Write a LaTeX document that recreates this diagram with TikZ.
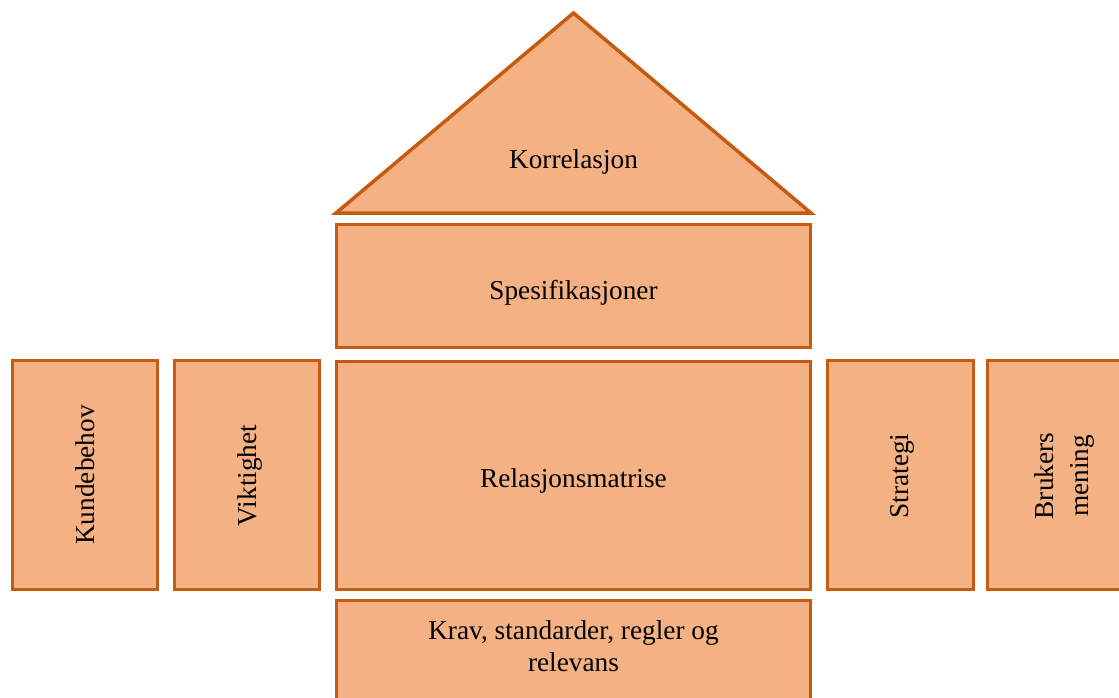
\documentclass[tikz,border=0pt]{standalone}
\usepackage{fontspec}
\setmainfont{Liberation Serif}
\definecolor{hqfill}{HTML}{F4B183}
\definecolor{hqline}{HTML}{C55A11}
\begin{document}
\begin{tikzpicture}[x=1pt,y=-1pt,
  part/.style={draw=hqline, fill=hqfill, line width=3.5pt, inner sep=0pt},
  lbl/.style={font=\fontsize{27.3}{31.5}\selectfont, text=black, align=center, inner sep=0pt}]
\useasboundingbox (0,0) rectangle (1119,698);
\clip (0,0) rectangle (1119,698);

% roof
\draw[part, line join=miter] (573.5,13) -- (811,213) -- (336,213) -- cycle;
\node[lbl] (roof) at (573.5,162) {Korrelasjon};

% central column
\node[part, minimum width=474pt, minimum height=123pt] (spec) at (573.5,286) {};
\node[lbl] (spectext) at (573.5,293) {Spesifikasjoner};
\node[part, minimum width=474pt, minimum height=228pt] (matrix) at (573.5,475.5) {};
\node[lbl] (matrixtext) at (573.5,481) {Relasjonsmatrise};
\node[part, minimum width=474pt, minimum height=130pt, anchor=north] (krav) at (573.5,598.5) {};
\node[lbl] (kravtext) at (573.5,646) {Krav, standarder, regler og\\relevans};

% side columns
\node[part, lbl, rotate=90, minimum width=229pt, minimum height=145pt] (kunde) at (85,475) {Kundebehov};
\node[part, minimum width=145pt, minimum height=229pt] (vikt) at (247,475) {};
\node[lbl, rotate=90] (vikttext) at (249.5,475.5) {Viktighet};
\node[part, minimum width=146pt, minimum height=229pt] (strat) at (900.5,475) {};
\node[lbl, rotate=90] (strattext) at (902,476) {Strategi};
\node[part, minimum width=153pt, minimum height=229pt] (bruker) at (1064,475) {};
\node[lbl, rotate=90, font=\fontsize{27.3}{35}\selectfont] (brukertext) at (1064,476) {Brukers\\mening};
\end{tikzpicture}
\end{document}
